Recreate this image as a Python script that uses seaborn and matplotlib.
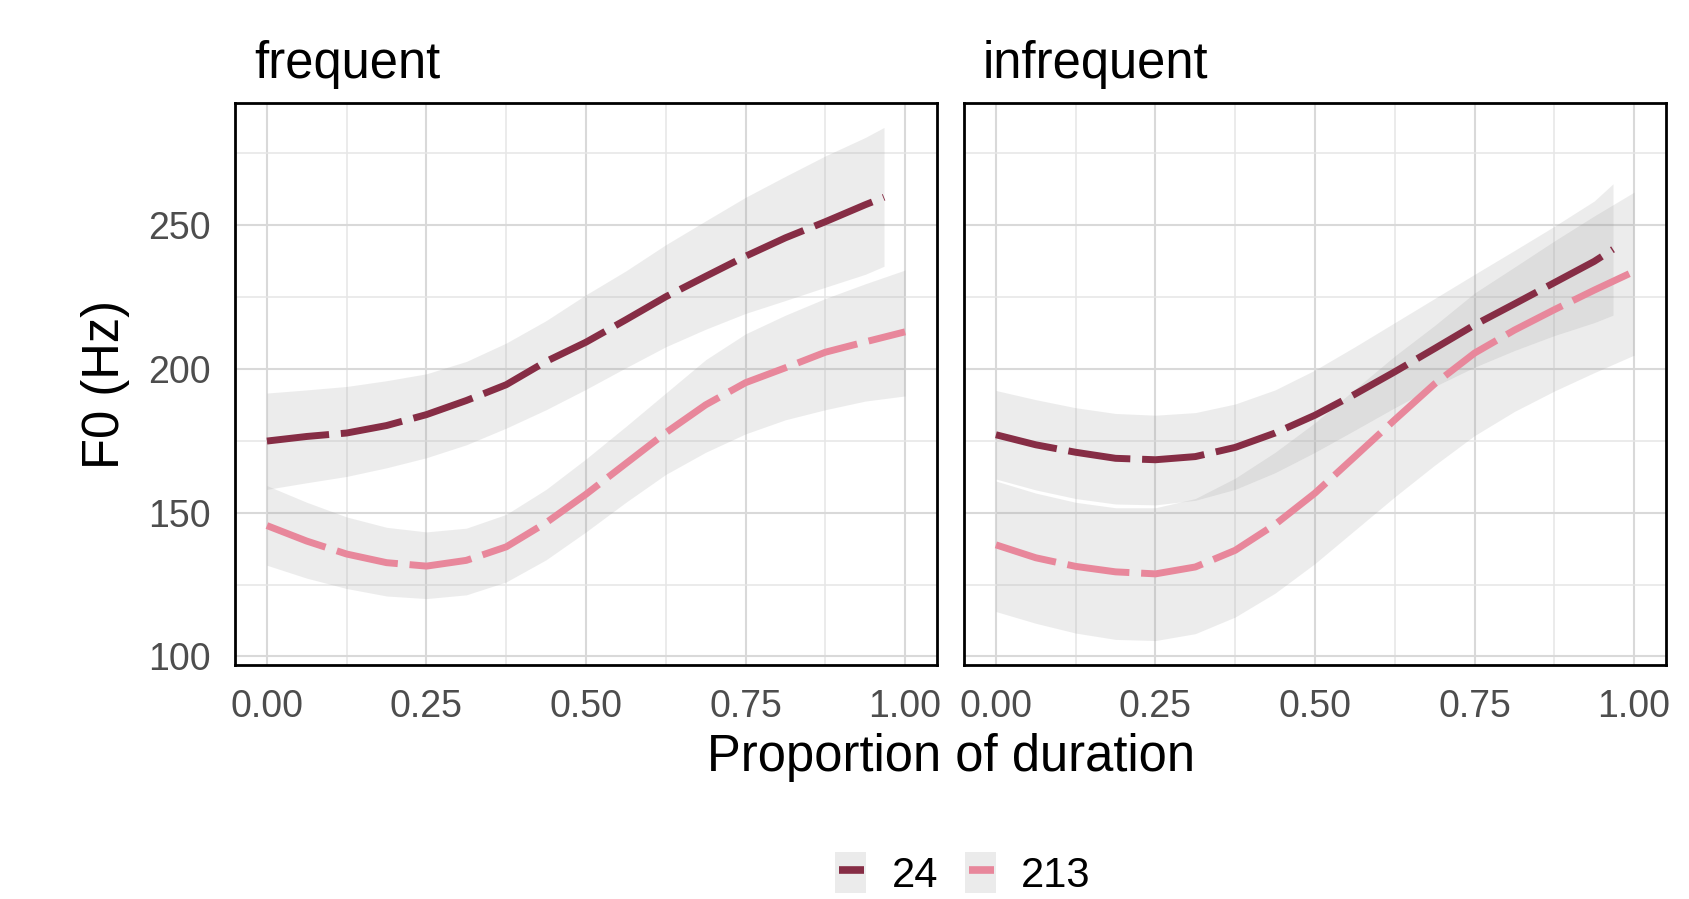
import matplotlib
matplotlib.use("Agg")
import pandas as pd
import matplotlib.pyplot as plt
import seaborn as sns
from matplotlib.lines import Line2D
from matplotlib.patches import Patch
from matplotlib.legend_handler import HandlerTuple

# proportion of duration at which values were read
x_pink = [0, 0.0625, 0.125, 0.1875, 0.25, 0.3125, 0.375, 0.4375, 0.5,
          0.5625, 0.625, 0.6875, 0.75, 0.8125, 0.875, 0.9375, 1.0]
x_dark = x_pink[:-1] + [0.967]

facets = ["frequent", "infrequent"]
tones = ["24", "213"]

# frequent, tone 24
freq_24 = [174.9, 176.5, 177.7, 180.3, 184.1, 189.0, 194.5, 202.6, 209.3,
           217.1, 225.1, 232.2, 239.2, 245.6, 251.2, 257.1, 259.7]
freq_24_hi = [191.6, 192.7, 193.9, 195.9, 198.3, 202.6, 209.0, 216.8, 225.8,
              234.1, 243.2, 251.5, 259.7, 267.0, 274.1, 280.5, 284.0]
freq_24_lo = [158.1, 160.4, 162.6, 165.6, 169.1, 173.6, 179.4, 185.8, 192.9,
              200.4, 207.7, 213.8, 219.3, 223.8, 228.4, 232.9, 235.7]
# frequent, tone 213
freq_213 = [145.5, 140.1, 135.6, 132.6, 131.4, 133.4, 138.1, 146.5, 156.4,
            167.1, 177.8, 187.5, 195.2, 200.4, 205.8, 209.4, 212.9]
freq_213_hi = [159.4, 153.6, 148.5, 144.9, 143.3, 144.6, 149.4, 158.1, 168.7,
               180.0, 191.6, 203.2, 212.2, 218.7, 224.5, 229.6, 234.4]
freq_213_lo = [131.7, 127.2, 123.6, 121.0, 120.1, 121.4, 125.9, 133.6, 143.3,
               153.6, 163.3, 171.0, 177.4, 182.3, 185.8, 188.8, 190.6]
# infrequent, tone 24
infr_24 = [177.1, 173.6, 171.0, 168.9, 168.4, 169.5, 172.7, 177.7, 183.9,
           191.2, 199.0, 207.1, 215.3, 222.6, 230.0, 237.4, 241.6]
infr_24_hi = [192.5, 189.3, 186.5, 184.5, 183.9, 184.8, 187.8, 192.7, 199.6,
              207.7, 216.1, 224.5, 232.9, 241.2, 249.6, 258.4, 264.4]
infr_24_lo = [161.7, 157.9, 154.9, 153.0, 152.7, 154.3, 158.1, 163.9, 171.0,
              178.7, 186.5, 193.9, 200.6, 206.4, 211.6, 216.1, 218.7]
# infrequent, tone 213
infr_213 = [138.8, 134.3, 131.3, 129.4, 128.7, 131.1, 136.9, 145.9, 156.8,
            169.5, 182.3, 194.8, 205.5, 213.5, 220.6, 227.4, 233.9]
infr_213_hi = [161.0, 156.8, 153.6, 151.7, 151.7, 154.9, 162.0, 171.0, 181.3,
               192.9, 204.5, 215.1, 226.4, 235.4, 244.5, 253.2, 261.5]
infr_213_lo = [115.6, 111.5, 108.1, 105.9, 105.5, 107.9, 113.7, 122.0, 132.3,
               143.9, 155.5, 166.5, 176.8, 185.2, 192.3, 198.7, 204.8]

x_ticks = [0, 0.25, 0.5, 0.75, 1.0]
x_labels = ["0.00", "0.25", "0.50", "0.75", "1.00"]
y_ticks = [100, 150, 200, 250]

series = [
    ("frequent", "24", x_dark, freq_24, freq_24_lo, freq_24_hi),
    ("frequent", "213", x_pink, freq_213, freq_213_lo, freq_213_hi),
    ("infrequent", "24", x_dark, infr_24, infr_24_lo, infr_24_hi),
    ("infrequent", "213", x_pink, infr_213, infr_213_lo, infr_213_hi),
]
rows = []
for facet, tone, xs, f0, lo, hi in series:
    for x, y, l, h in zip(xs, f0, lo, hi):
        rows.append({"facet": facet, "tone": tone, "prop": x, "f0": y, "lo": l, "hi": h})
df = pd.DataFrame(rows)

palette = {"24": "#862D45", "213": "#E8879B"}
band_color = "#999999"
band_alpha = 0.18

sns.set_style("white")
plt.rcParams["font.family"] = ["Liberation Sans", "DejaVu Sans"]
plt.rcParams["text.color"] = "black"

fig = plt.figure(figsize=(16.89, 8.99), dpi=100)
W, H = 1689, 899
panel_top, panel_bot = 103, 665
lefts = [235, 964]
pw = 702

for i, facet in enumerate(facets):
    ax = fig.add_axes([lefts[i] / W, 1 - panel_bot / H, pw / W, (panel_bot - panel_top) / H])
    sub = df[df["facet"] == facet]

    # confidence ribbons first, lines on top
    for tone in tones:
        d = sub[sub["tone"] == tone]
        ax.fill_between(d["prop"], d["lo"], d["hi"], color=band_color,
                        alpha=band_alpha, linewidth=0, zorder=1)

    sns.lineplot(data=sub, x="prop", y="f0", hue="tone", style="tone",
                 hue_order=tones, style_order=tones, palette=palette,
                 dashes={"24": (9.0, 1.7), "213": (9.0, 1.7)},
                 linewidth=5.0, legend=False, ax=ax, zorder=3, sort=False,
                 estimator=None)

    ax.set_xlim(-0.05, 1.05)
    ax.set_ylim(97, 292.5)
    ax.set_xticks(x_ticks)
    ax.set_xticklabels(x_labels)
    ax.set_xticks([0.125, 0.375, 0.625, 0.875], minor=True)
    ax.set_yticks(y_ticks)
    ax.set_yticks([125, 175, 225, 275], minor=True)
    ax.set_axisbelow(True)
    ax.grid(which="major", color="#D9D9D9", linewidth=1.5)
    ax.grid(which="minor", color="#E6E6E6", linewidth=1.1)
    ax.tick_params(which="major", length=9.4, width=1.5, color="#B3B3B3",
                   labelsize=27, labelcolor="#4D4D4D", pad=8)
    ax.tick_params(which="minor", length=0)
    if i == 1:
        ax.tick_params(axis="y", which="both", left=False, labelleft=False)
    for sp in ax.spines.values():
        sp.set_color("black")
        sp.set_linewidth(2.0)
    ax.set_xlabel("")
    ax.set_ylabel("")
    ax.text(19 / pw, 1 + (panel_top - 78) / (panel_bot - panel_top), facet,
            transform=ax.transAxes, fontsize=36.5, ha="left", va="baseline")

fig.text(950.5 / W, 1 - 771 / H, "Proportion of duration", fontsize=36.5,
         ha="center", va="baseline")
fig.text(106 / W, 1 - 384 / H, "F0 (Hz)", fontsize=36.5, rotation=90,
         ha="center", va="center")

# legend keys: grey ribbon square with a short line segment
handles = [(Patch(facecolor="#EBEBEB", edgecolor="none"),
            Line2D([], [], linestyle="none", marker="_", markersize=18,
                   markeredgewidth=5.5, color=palette[t])) for t in tones]
fig.legend(handles, tones, handler_map={tuple: HandlerTuple(ndivide=1, pad=0)},
           loc="center", bbox_to_anchor=(963 / W, 1 - 874 / H), ncol=2,
           frameon=False, fontsize=30, handlelength=0.75, handleheight=1.15,
           handletextpad=0.6, columnspacing=0.65)

fig.savefig("out.png", dpi=100)
